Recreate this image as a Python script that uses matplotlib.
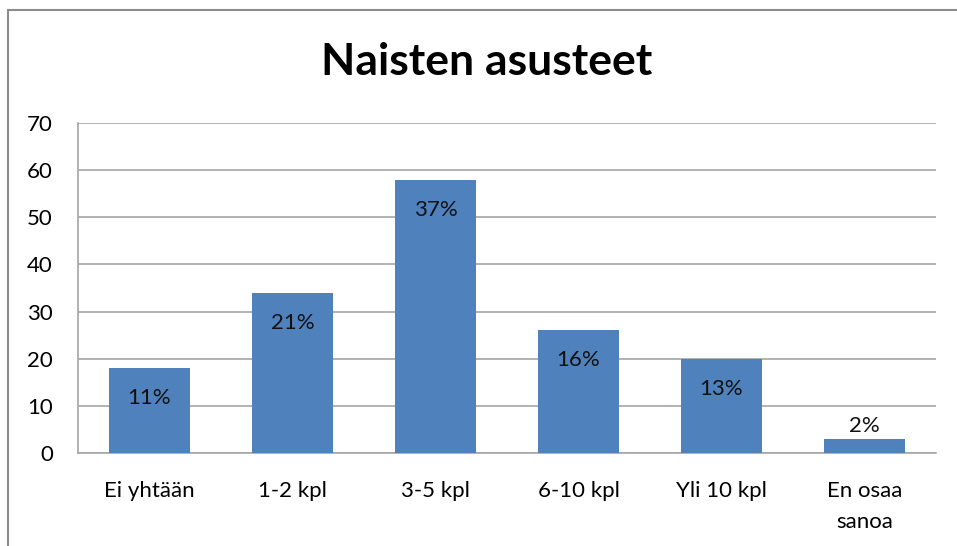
import matplotlib
matplotlib.use("Agg")
import matplotlib.pyplot as plt
from matplotlib.patches import Rectangle

categories = ["Ei yhtään", "1-2 kpl", "3-5 kpl", "6-10 kpl", "Yli 10 kpl", "En osaa\nsanoa"]
values = [18, 34, 58, 26, 20, 3]
pct_labels = ["11%", "21%", "37%", "16%", "13%", "2%"]
yticks = [0, 10, 20, 30, 40, 50, 60, 70]
title = "Naisten asusteet"

W, H = 957, 546
fig = plt.figure(figsize=(W / 100, H / 100), dpi=100)
plt.rcParams['font.family'] = ['Lato', 'DejaVu Sans']

# outer chart frame
fig.patches.append(Rectangle((8 / W, -0.1), 1.2, 1.1 - 10 / H, transform=fig.transFigure,
                             fill=False, edgecolor="#8c8c8c", linewidth=1.5))

ax = fig.add_axes([78 / W, 1 - 453 / H, (936 - 78) / W, (453 - 123) / H])
x = range(len(categories))
ax.bar(x, values, width=0.57, color="#4f81bd", zorder=3)
ax.set_xlim(-0.5, len(categories) - 0.5)
ax.set_ylim(0, 70)
ax.set_yticks(yticks)
ax.set_yticklabels([str(t) for t in yticks], fontsize=16)
ax.set_xticks(list(x))
ax.set_xticklabels(categories, fontsize=16, linespacing=1.7)
ax.tick_params(axis="y", length=0, pad=18)
ax.tick_params(axis="x", length=0, pad=20)
ax.yaxis.grid(True, color="#a6a6a6", linewidth=1.2, zorder=0)
for s in ["top", "right"]:
    ax.spines[s].set_visible(False)
for s in ["left", "bottom"]:
    ax.spines[s].set_color("#a6a6a6")
    ax.spines[s].set_linewidth(1.2)

for i, (v, lab) in enumerate(zip(values, pct_labels)):
    if v > 8:
        ax.annotate(lab, (i, v), xytext=(0, -30), textcoords="offset pixels",
                    ha="center", va="center", fontsize=16, color="#111111", zorder=4)
    else:
        ax.annotate(lab, (i, v), xytext=(0, 13), textcoords="offset pixels",
                    ha="center", va="center", fontsize=16, color="#111111", zorder=4)

fig.text(487 / W, 1 - 62 / H, title, ha="center", va="center", fontsize=32, fontweight="bold")

fig.savefig("out.png", dpi=100)
